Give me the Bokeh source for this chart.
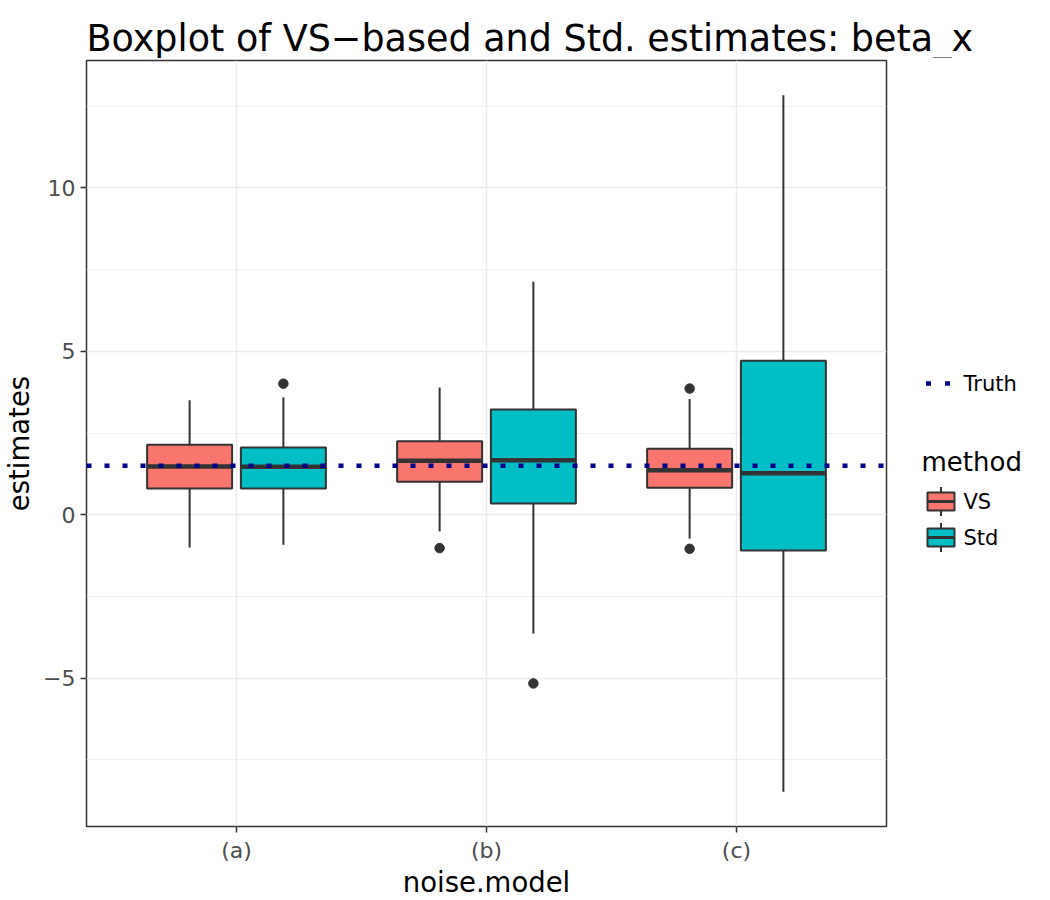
from bokeh.plotting import figure
from bokeh.models import FactorRange, Range1d, FixedTicker, Span, ColumnDataSource
from bokeh.transform import dodge
from bokeh.layouts import row, column
from bokeh.core.properties import value
from bokeh.embed import file_html
from bokeh.resources import INLINE

# ---------------- data ----------------
categories = ["(a)", "(b)", "(c)"]
methods = ["VS", "Std"]
method_colors = ["#F8766D", "#00BFC4"]

vs_lower = [-1.00, -0.51, -0.73]
vs_q1 = [0.80, 1.01, 0.83]
vs_median = [1.475, 1.65, 1.36]
vs_q3 = [2.14, 2.25, 2.02]
vs_upper = [3.50, 3.89, 3.54]

std_lower = [-0.92, -3.63, -8.47]
std_q1 = [0.80, 0.345, -1.09]
std_median = [1.47, 1.67, 1.27]
std_q3 = [2.06, 3.22, 4.71]
std_upper = [3.59, 7.13, 12.83]

vs_outlier_cat = ["(b)", "(c)", "(c)"]
vs_outlier_val = [-1.02, 3.86, -1.04]
std_outlier_cat = ["(a)", "(b)"]
std_outlier_val = [4.01, -5.16]

truth = 1.5

y_ticks = [-5, 0, 5, 10]
y_minor = [-7.5, -2.5, 2.5, 7.5, 12.5]

title_text = "Boxplot of VS\u2212based and Std. estimates: beta_x"

FONT = "DejaVu Sans"
DARK = "#333333"

TITLE_H = 58
MAIN_W = 896
BODY_H = 900 - TITLE_H
TOP_B = 2
BOT_B = 74


def blank(fig):
    fig.grid.visible = False
    fig.outline_line_color = None
    fig.background_fill_color = "white"
    fig.border_fill_color = "white"


# ---------------- title strip (no axes, so the frame fills the whole strip) ----------------
tfig = figure(width=1050, height=TITLE_H, output_backend="svg", toolbar_location=None,
              x_axis_type=None, y_axis_type=None,
              x_range=Range1d(0, 1050), y_range=Range1d(TITLE_H, 0),
              min_border_left=0, min_border_right=0, min_border_top=0, min_border_bottom=0)
blank(tfig)
tfig.text(x=[86], y=[38], text=[title_text], text_font=value(FONT),
          text_font_size="36.5px", text_baseline="alphabetic", text_color="black")

# ---------------- main figure ----------------
p = figure(width=MAIN_W, height=BODY_H, output_backend="svg", toolbar_location=None,
           x_range=FactorRange(factors=categories, range_padding=0.1,
                               range_padding_units="absolute"),
           y_range=Range1d(-9.535, 13.895),
           min_border_left=85, min_border_right=10,
           min_border_top=TOP_B, min_border_bottom=BOT_B)

p.background_fill_color = "white"
p.border_fill_color = "white"
p.outline_line_color = DARK
p.outline_line_width = 1.5
p.outline_line_alpha = 1.0

p.ygrid.ticker = FixedTicker(ticks=y_ticks, minor_ticks=y_minor)
p.ygrid.grid_line_color = "#EBEBEB"
p.ygrid.grid_line_width = 1.5
p.ygrid.minor_grid_line_color = "#EBEBEB"
p.ygrid.minor_grid_line_width = 0.8
p.xgrid.grid_line_color = "#EBEBEB"
p.xgrid.grid_line_width = 1.5

p.yaxis.ticker = FixedTicker(ticks=y_ticks)
p.yaxis.major_label_overrides = {t: (f"\u2212{abs(t)}" if t < 0 else str(t)) for t in y_ticks}
for ax in (p.xaxis[0], p.yaxis[0]):
    ax.axis_line_color = None
    ax.major_tick_line_color = DARK
    ax.major_tick_line_width = 1.5
    ax.major_tick_out = 6
    ax.major_tick_in = 0
    ax.minor_tick_line_color = None
    ax.major_label_text_font = FONT
    ax.major_label_text_font_size = "22px"
    ax.major_label_text_color = "#4D4D4D"
    ax.axis_label_text_font = FONT
    ax.axis_label_text_font_size = "27.5px"
    ax.axis_label_text_font_style = "normal"
    ax.axis_label_text_color = "black"
p.xaxis.axis_label = "noise.model"
p.yaxis.axis_label = "estimates"
p.xaxis.major_label_standoff = 5
p.xaxis.axis_label_standoff = 0
p.yaxis.major_label_standoff = 5
p.yaxis.axis_label_standoff = 5

box_width = 0.34
offsets = [-0.1875, 0.1875]
stats = [
    (vs_lower, vs_q1, vs_median, vs_q3, vs_upper, vs_outlier_cat, vs_outlier_val),
    (std_lower, std_q1, std_median, std_q3, std_upper, std_outlier_cat, std_outlier_val),
]

for (lo, q1, med, q3, hi, ocat, oval), off, col in zip(stats, offsets, method_colors):
    src = ColumnDataSource(dict(cat=categories, lo=lo, q1=q1, med=med, q3=q3, hi=hi))
    xc = dodge("cat", off, range=p.x_range)
    p.segment(x0=xc, y0="lo", x1=xc, y1="hi", source=src,
              line_color=DARK, line_width=2)
    p.vbar(x=xc, width=box_width, bottom="q1", top="q3", source=src,
           fill_color=col, line_color=DARK, line_width=2)
    p.segment(x0=dodge("cat", off - box_width / 2, range=p.x_range), y0="med",
              x1=dodge("cat", off + box_width / 2, range=p.x_range), y1="med",
              source=src, line_color=DARK, line_width=4.5, line_cap="butt")
    osrc = ColumnDataSource(dict(cat=ocat, val=oval))
    p.scatter(x=dodge("cat", off, range=p.x_range), y="val", source=osrc,
              size=9.5, fill_color=DARK, line_color=DARK)

p.add_layout(Span(location=truth, dimension="width", line_color="#00008B",
                  line_width=4.5, line_dash="5 13"))

# ---------------- legend panel (pixel coordinates of the page) ----------------
frame_top = TITLE_H + TOP_B
frame_bot = 900 - BOT_B
leg = figure(width=1050 - MAIN_W, height=BODY_H, output_backend="svg", toolbar_location=None,
             x_axis_type=None, y_axis_type=None,
             x_range=Range1d(MAIN_W, 1050), y_range=Range1d(frame_bot, frame_top),
             min_border_left=0, min_border_right=0,
             min_border_top=TOP_B, min_border_bottom=BOT_B)
blank(leg)

key_x0, key_x1 = 927, 954
label_x = 963
truth_y = 383
leg.segment(x0=[key_x0 - 1.5], y0=[truth_y], x1=[key_x1 - 4.5], y1=[truth_y],
            line_color="#00008B", line_width=4.5, line_dash="5 14", line_cap="butt")
leg.text(x=[label_x], y=[truth_y], text=["Truth"], text_font=value(FONT),
         text_font_size="21px", text_baseline="middle", text_color="black")
leg.text(x=[921], y=[461], text=["method"], text_font=value(FONT),
         text_font_size="26px", text_baseline="middle", text_color="black")

key_centers = [501, 537]
half_box = 9
half_whisk = 14.5
for cy, col, name in zip(key_centers, method_colors, methods):
    xm = (key_x0 + key_x1) / 2
    leg.segment(x0=[xm], y0=[cy - half_whisk], x1=[xm], y1=[cy + half_whisk],
                line_color=DARK, line_width=2)
    leg.quad(left=[key_x0], right=[key_x1], top=[cy - half_box], bottom=[cy + half_box],
             fill_color=col, line_color=DARK, line_width=2)
    leg.segment(x0=[key_x0], y0=[cy], x1=[key_x1], y1=[cy],
                line_color=DARK, line_width=3)
    leg.text(x=[label_x], y=[cy], text=[name], text_font=value(FONT),
             text_font_size="21px", text_baseline="middle", text_color="black")

layout = column(tfig, row(p, leg))
open("out.html", "w").write(file_html(layout, INLINE))
